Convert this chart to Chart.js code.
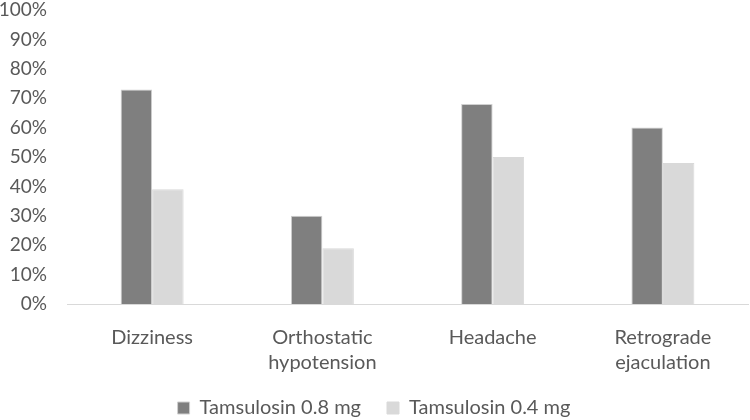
<!DOCTYPE html>
<html>
<head>
<meta charset="utf-8">
<script src="https://cdn.jsdelivr.net/npm/chart.js@4/dist/chart.umd.min.js"></script>
<style>
  body { margin: 0; background: #fff; }
  #wrap { width: 750px; height: 420px; }
</style>
</head>
<body>
<div id="wrap"><canvas id="myChart"></canvas></div>
<script>
const categories = ['Dizziness', ['Orthostatic', 'hypotension'], 'Headache', ['Retrograde', 'ejaculation']];
const tams08 = [73, 30, 68, 60];
const tams04 = [39, 19, 50, 48];
const yTicks = [0, 10, 20, 30, 40, 50, 60, 70, 80, 90, 100];

const textColor = '#595959';
const fontFamily = 'Lato, "Open Sans", sans-serif';

// keep wide spacing between legend items but a short legend box
const legendHeight = {
  id: 'legendHeight',
  afterInit(chart) {
    const legend = chart.legend;
    const fit = legend.fit;
    legend.fit = function () {
      fit.call(this);
      this.height = 48;
    };
  }
};

const ctx = document.getElementById('myChart').getContext('2d');
const chart = new Chart(ctx, {
  type: 'bar',
  data: {
    labels: categories,
    datasets: [
      {
        label: 'Tamsulosin 0.8 mg',
        data: tams08,
        backgroundColor: '#7f7f7f',
        borderColor: '#d0d0d0',
        borderWidth: 1
      },
      {
        label: 'Tamsulosin 0.4 mg',
        data: tams04,
        backgroundColor: '#d9d9d9',
        borderColor: '#d9d9d9',
        borderWidth: 1
      }
    ]
  },
  plugins: [legendHeight],
  options: {
    responsive: true,
    maintainAspectRatio: false,
    animation: false,
    layout: { padding: { top: 0, right: 2, left: 0, bottom: 0 } },
    datasets: {
      bar: { categoryPercentage: 0.37, barPercentage: 1 }
    },
    plugins: {
      legend: {
        position: 'bottom',
        labels: {
          color: textColor,
          font: { family: fontFamily, size: 20 },
          boxWidth: 12,
          boxHeight: 12,
          padding: 26
        }
      },
      tooltip: { enabled: false }
    },
    scales: {
      x: {
        afterFit: axis => { axis.height = 68; },
        grid: { display: false, drawTicks: false, tickLength: 0 },
        border: { color: '#d9d9d9', width: 1 },
        ticks: {
          color: textColor,
          font: { family: fontFamily, size: 20, lineHeight: 1.25 },
          padding: 21,
          maxRotation: 0
        }
      },
      y: {
        min: 0,
        max: 100,
        afterBuildTicks: axis => { axis.ticks = yTicks.map(v => ({ value: v })); },
        afterFit: axis => {
          axis.width = 67;
          axis.paddingTop = 10;
          axis.paddingBottom = 0;
        },
        grid: { display: false, drawTicks: false, tickLength: 0 },
        border: { display: false },
        ticks: {
          autoSkip: false,
          color: textColor,
          font: { family: fontFamily, size: 19 },
          padding: 20,
          callback: v => v + '%'
        }
      }
    }
  }
});
</script>
</body>
</html>
